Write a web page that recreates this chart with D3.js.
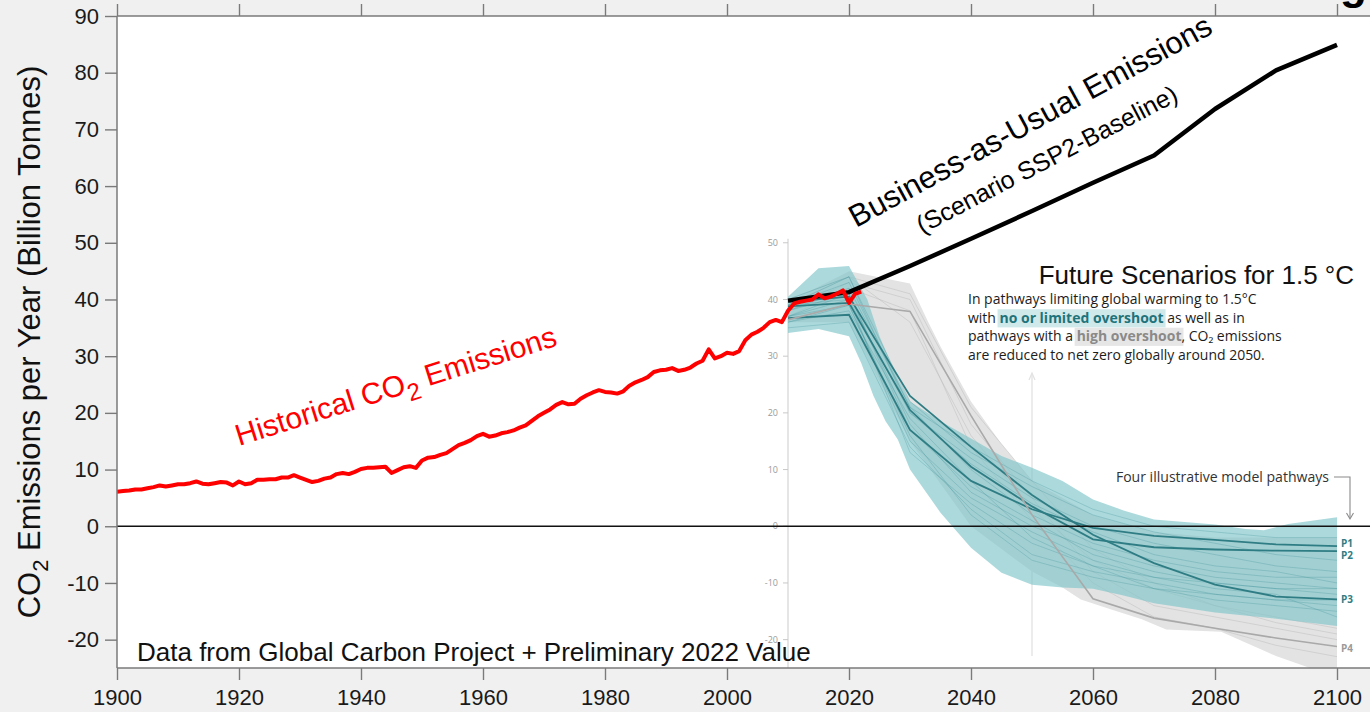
<!DOCTYPE html>
<html><head><meta charset="utf-8">
<script src="https://cdn.jsdelivr.net/npm/d3@7/dist/d3.min.js"></script>
<style>body{margin:0;background:#f0f0f0;overflow:hidden}svg{display:block}</style>
</head><body>
<svg id="chart" width="1370" height="712"></svg>
<script>
// ---------------- DATA ----------------
const xTicks = [1900,1920,1940,1960,1980,2000,2020,2040,2060,2080,2100];
const yTicks = [-20,-10,0,10,20,30,40,50,60,70,80,90];
const insetTicks = [-20,-10,0,10,20,30,40,50];

const histStart = 1900;
const histValues = [
 6.1,6.2,6.3,6.5,6.5,6.7,6.9,7.2,7.0,7.2,
 7.4,7.4,7.6,7.9,7.5,7.4,7.6,7.8,7.7,7.2,
 7.9,7.4,7.6,8.2,8.2,8.3,8.3,8.6,8.6,9.0,
 8.6,8.2,7.8,8.0,8.4,8.6,9.2,9.4,9.2,9.6,
 10.1,10.3,10.3,10.4,10.5,9.4,9.9,10.4,10.6,10.3,
 11.6,12.1,12.2,12.6,12.9,13.6,14.3,14.7,15.2,15.9,
 16.3,15.8,16.0,16.4,16.6,16.9,17.4,17.8,18.6,19.4,
 20.0,20.6,21.4,21.9,21.5,21.6,22.5,23.1,23.6,24.0,
 23.7,23.6,23.4,23.8,24.8,25.4,25.8,26.3,27.2,27.5,
 27.6,27.9,27.4,27.6,28.0,28.7,29.2,31.2,29.6,30.0,
 30.6,30.4,30.9,32.8,33.8,34.3,35.0,36.0,36.4,36.0,
 38.0,39.3,39.6,39.8,40.0,40.9,40.2,40.5,41.0,41.6,
 39.4,41.0,41.4
];

const bauYears  = [2010,2020,2030,2040,2050,2060,2070,2080,2090,2100];
const bauValues = [39.8,41.3,45.9,50.7,55.6,60.6,65.4,73.6,80.4,84.9];

// 1.5 °C scenario ranges (inset, IPCC SR15)
const tealUpperYears  = [2010,2015,2020,2023,2025,2028,2030,2035,2040,2045,2050,2055,2060,2065,2070,2080,2085,2088,2092,2100];
const tealUpperValues = [40.5,45.5,45.9,40.0,33.5,26.0,22.0,18.5,15.5,12.4,10.3,8.0,4.7,2.8,1.2,0.3,-0.5,-0.7,0.4,1.6];
const tealLowerYears  = [2010,2015,2020,2022,2024,2026,2028,2030,2035,2040,2045,2050,2055,2060,2065,2070,2080,2090,2100];
const tealLowerValues = [34.1,34.8,33.5,28.8,23.0,18.5,15.3,10.0,2.4,-3.8,-8.2,-10.3,-10.8,-11.0,-12.2,-13.6,-15.2,-16.3,-17.6];

const greyUpperYears  = [2010,2020,2030,2033,2035,2040,2045,2050,2060,2070,2080,2090,2100];
const greyUpperValues = [39.5,45.0,42.8,36.0,31.7,22.0,14.5,8.0,2.0,-1.0,-2.0,-2.0,-2.0];
const greyLowerYears  = [2010,2020,2030,2040,2050,2055,2058,2063,2068,2072,2081,2090,2095,2100];
const greyLowerValues = [36.0,36.0,15.0,0.0,-8.0,-10.8,-12.9,-14.7,-16.4,-18.2,-18.6,-22.9,-24.8,-27.0];

const pathYears = [2010,2020,2030,2040,2050,2060,2070,2080,2090,2100];
const p1Values = [36.7,37.3,17.0,8.0,3.0,-0.3,-1.7,-2.4,-3.2,-3.5];
const p2Values = [38.8,39.4,20.5,10.5,3.5,-2.3,-3.7,-4.1,-4.3,-4.4];
const p3Values = [39.6,40.5,23.0,14.0,5.5,-1.5,-6.5,-10.3,-12.4,-12.9];
const p4Values = [36.4,39.2,37.9,19.5,2.0,-12.8,-16.2,-18.0,-19.7,-21.2];

// faint individual pathways
const tealFaint = [
 [40,44,22,13,7,2,-1,-3,-5,-6],
 [37,41,18,6,0,-4,-7,-9,-10,-11],
 [39,43,21,10,2,-3,-6,-8,-9,-9],
 [35,36,14,3,-5,-8,-10,-12,-13,-14],
 [38,42,21,14,8,3,0,-1,-2,-2],
 [36,38,19,8,-2,-7,-11,-13,-14,-15],
 [39,40,20,12,5,0,-3,-5,-7,-8],
 [37,39,16,2,-6,-9,-11,-12,-13,-13],
 [38,41,17,7,1,-5,-8,-10,-11,-12],
 [36,39,15,5,-1,-6,-9,-11,-12,-16],
 [39,44,20,11,4,-1,-5,-7,-8,-10],
 [37,40,13,4,-3,-7,-9,-10,-11,-11]
];
const greyFaint = [
 [39,44,41,21,8,-4,-10,-14,-17,-19],
 [38,43,40,18,5,-8,-14,-16,-18,-20],
 [40,44,36,16,3,-6,-11,-14,-16,-18],
 [37,42,38,14,1,-10,-16,-18,-21,-23]
];
const pathLabels = ["P1","P2","P3","P4"];

// ---------------- CHART ----------------
const svg = d3.select("#chart");
const SANS = "'Liberation Sans', Arial, sans-serif";
const OPEN = "'Open Sans', 'Noto Sans', sans-serif";
const plot = {l:117, t:16, r:1370, b:668};

const x = d3.scaleLinear().domain([1900,2100]).range([117,1337]);
const y = d3.scaleLinear().domain([-25,90]).range([plot.b, plot.t]);

svg.append("rect").attr("width",1370).attr("height",712).attr("fill","#f0f0f0");
svg.append("rect").attr("x",plot.l).attr("y",plot.t).attr("width",plot.r-plot.l).attr("height",plot.b-plot.t).attr("fill","#fff");

svg.append("defs").append("clipPath").attr("id","clip")
  .append("rect").attr("x",plot.l).attr("y",plot.t).attr("width",plot.r-plot.l).attr("height",plot.b-plot.t);

const g = svg.append("g").attr("clip-path","url(#clip)");

const line = d3.line().x(d=>x(d[0])).y(d=>y(d[1]));
const zip = (ys, vs) => ys.map((yy,i)=>[yy, vs[i]]);

// inset y axis
const insetX = x(2010);
g.append("line").attr("x1",insetX).attr("x2",insetX).attr("y1",y(50)-4).attr("y2",plot.b)
  .attr("stroke","#dcdcdc").attr("stroke-width",1.5);
insetTicks.forEach(v=>{
  g.append("line").attr("x1",insetX-5).attr("x2",insetX).attr("y1",y(v)).attr("y2",y(v)).attr("stroke","#c8c8c8");
  g.append("text").attr("x",insetX-10).attr("y",y(v)).attr("dy","0.35em").attr("text-anchor","end")
    .attr("font-family",OPEN).attr("font-size",9).attr("fill","#9a9a9a").text(String(v));
});

// 2050 marker line with arrow
const x2050 = x(2050);
g.append("line").attr("x1",x2050).attr("x2",x2050).attr("y1",374).attr("y2",656).attr("stroke","#e2e2e2").attr("stroke-width",1.3);
g.append("path").attr("d",`M${x2050-3},${380} L${x2050},${373} L${x2050+3},${380}`).attr("fill","none").attr("stroke","#e2e2e2").attr("stroke-width",1.2);

// bands
const band = (uy,uv,ly,lv) => line(zip(uy,uv).concat(zip(ly,lv).reverse())) + "Z";
g.append("path").attr("d",band(greyUpperYears,greyUpperValues,greyLowerYears,greyLowerValues)).attr("fill","#e3e3e3");
greyFaint.forEach(v=>g.append("path").attr("d",line(zip(pathYears,v))).attr("fill","none").attr("stroke","#b5b5b5").attr("stroke-opacity",0.5).attr("stroke-width",0.8));
g.append("path").attr("d",band(tealUpperYears,tealUpperValues,tealLowerYears,tealLowerValues)).attr("fill","#7fc4ca").attr("fill-opacity",0.65);
tealFaint.forEach(v=>g.append("path").attr("d",line(zip(pathYears,v))).attr("fill","none").attr("stroke","#3b8f96").attr("stroke-opacity",0.28).attr("stroke-width",1));

// illustrative pathways
[p1Values,p2Values,p3Values].forEach(v=>g.append("path").attr("d",line(zip(pathYears,v))).attr("fill","none").attr("stroke","#2f7d84").attr("stroke-width",1.8));
g.append("path").attr("d",line(zip(pathYears,p4Values))).attr("fill","none").attr("stroke","#a9a9a9").attr("stroke-width",1.6);

// zero line
g.append("line").attr("x1",plot.l).attr("x2",plot.r).attr("y1",y(0)).attr("y2",y(0)).attr("stroke","#111").attr("stroke-width",1.6);

// BAU and historical
g.append("path").attr("d",line(zip(bauYears,bauValues))).attr("fill","none").attr("stroke","#000").attr("stroke-width",4.5).attr("stroke-linejoin","round");
g.append("path").attr("d",line(histValues.map((v,i)=>[histStart+i,v]))).attr("fill","none").attr("stroke","#ff0000").attr("stroke-width",4).attr("stroke-linejoin","round");

// axes
const fmt = d => String(d);
const axStyle = sel => {
  sel.select(".domain").remove();
  sel.selectAll(".tick line").attr("stroke","#7a7a7a").attr("stroke-width",1.4);
  sel.selectAll(".tick text").attr("font-family",SANS).attr("font-size",22).attr("fill","#1a1a1a");
};
svg.append("g").attr("transform",`translate(${plot.l},0)`).call(d3.axisLeft(y).tickValues(yTicks).tickFormat(fmt).tickSize(12).tickPadding(6)).call(axStyle);
svg.append("g").attr("transform",`translate(0,${plot.b})`).call(d3.axisBottom(x).tickValues(xTicks).tickFormat(fmt).tickSize(12).tickPadding(9)).call(axStyle);
svg.append("g").attr("transform",`translate(0,${plot.t})`).call(d3.axisTop(x).tickValues(xTicks).tickSize(12).tickFormat("")).call(axStyle);
const frame = svg.append("g").attr("stroke","#7a7a7a").attr("stroke-width",1.5);
frame.append("line").attr("x1",plot.l).attr("x2",plot.r).attr("y1",plot.t).attr("y2",plot.t);
frame.append("line").attr("x1",plot.l).attr("x2",plot.r).attr("y1",plot.b).attr("y2",plot.b);
frame.append("line").attr("x1",plot.l).attr("x2",plot.l).attr("y1",plot.t).attr("y2",plot.b);

// cut-off title at the very top (only the descender of its last letter is visible)
svg.append("text").attr("x",1367).attr("y",-1).attr("text-anchor","end").attr("font-family",SANS)
  .attr("font-weight",700).attr("font-size",44).attr("fill","#000").text("Warming");

// y axis title
const yt = svg.append("text").attr("transform",`translate(40,${(plot.t+plot.b)/2}) rotate(-90)`)
  .attr("text-anchor","middle").attr("font-family",SANS).attr("font-size",31).attr("fill","#111");
yt.append("tspan").text("CO");
yt.append("tspan").attr("font-size",22).attr("dy",8).text("2");
yt.append("tspan").attr("dy",-8).text(" Emissions per Year (Billion Tonnes)");

// historical label
const ht = svg.append("text").attr("transform","translate(239,446) rotate(-17.5)")
  .attr("font-family",SANS).attr("font-size",30).attr("fill","#ff0000");
ht.append("tspan").text("Historical CO");
ht.append("tspan").attr("font-size",24).attr("dy",9).text("2");
ht.append("tspan").attr("dy",-9).text(" Emissions");

// BAU labels
svg.append("text").attr("transform","translate(856,228) rotate(-28.6)")
  .attr("font-family",SANS).attr("font-size",31).attr("fill","#000").text("Business-as-Usual Emissions");
svg.append("text").attr("transform","translate(922,234) rotate(-27.5)")
  .attr("font-family",SANS).attr("font-size",25).attr("fill","#000").text("(Scenario SSP2-Baseline)");

// data source
svg.append("text").attr("x",137).attr("y",661).attr("font-family",SANS).attr("font-size",26).attr("fill","#111")
  .text("Data from Global Carbon Project + Preliminary 2022 Value");

// inset title
svg.append("text").attr("x",1354).attr("y",284).attr("text-anchor","end").attr("font-family",SANS).attr("font-size",26).attr("fill","#111")
  .text("Future Scenarios for 1.5 °C");

// paragraph
const para = [
 [{t:"In pathways limiting global warming to 1.5°C"}],
 [{t:"with "},{t:"no or limited overshoot",hl:"teal"},{t:" as well as in"}],
 [{t:"pathways with a "},{t:"high overshoot",hl:"grey"},{t:", CO₂ emissions"}],
 [{t:"are reduced to net zero globally around 2050."}]
];
const pg = svg.append("g");
const probe = pg.append("text").attr("font-family",OPEN).attr("font-size",13).text(para[0][0].t);
const fs = 13*289/probe.node().getComputedTextLength();
probe.remove();
const baselines = [304,322.5,341,359.5];
para.forEach((segs,li)=>{
  let cx = 968;
  segs.forEach(s=>{
    const hlg = pg.append("g");
    const t = pg.append("text").attr("x",cx).attr("y",baselines[li]).attr("font-family",OPEN).attr("font-size",fs)
      .style("white-space","pre").attr("xml:space","preserve")
      .attr("font-weight",s.hl?700:400).attr("fill",s.hl==="teal"?"#1f737a":s.hl==="grey"?"#8a8a8a":"#1c1c1c").text(s.t);
    const w = t.node().getComputedTextLength();
    if(s.hl){
      hlg.append("rect").attr("x",cx-2).attr("y",baselines[li]-fs*0.95).attr("width",w+4).attr("height",fs*1.3)
        .attr("fill",s.hl==="teal"?"#cfe8ea":"#e6e6e6");
    }
    cx += w;
  });
});

// four pathways annotation
const fp = svg.append("text").attr("x",1329).attr("y",481.5).attr("text-anchor","end").attr("font-family",OPEN).attr("font-size",fs).attr("fill","#333")
  .text("Four illustrative model pathways");
fp.attr("font-size", fs*213/fp.node().getComputedTextLength());
svg.append("path").attr("d","M1334,477 H1350 V518").attr("fill","none").attr("stroke","#8a8a8a").attr("stroke-width",1.1);
svg.append("path").attr("d","M1346.5,513 L1350,519 L1353.5,513").attr("fill","none").attr("stroke","#8a8a8a").attr("stroke-width",1.1);

// pathway end labels
const labelY = [543,555,599,648];
pathLabels.forEach((p,i)=>{
  svg.append("text").attr("x",1341).attr("y",labelY[i]).attr("dy","0.35em").attr("font-family",OPEN).attr("font-weight",700)
    .attr("font-size",10).attr("fill",i<3?"#2f7d84":"#9a9a9a").text(p);
});
</script>
</body></html>
